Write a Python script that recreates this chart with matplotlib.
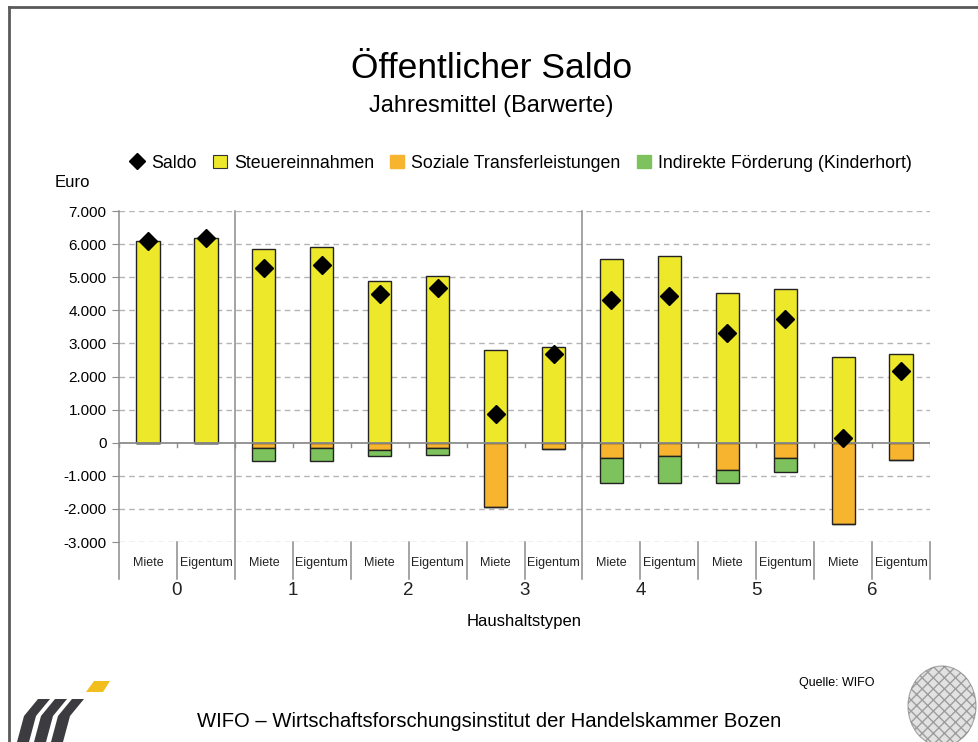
import matplotlib.pyplot as plt
import matplotlib.ticker as mticker
import matplotlib.transforms as mtransforms
from matplotlib.patches import Polygon, Ellipse
import numpy as np

plt.rcParams['font.family'] = ['Liberation Sans', 'DejaVu Sans']

# Daten
gruppen = ["0", "1", "2", "3", "4", "5", "6"]
wohnform = ["Miete", "Eigentum"] * 7
steuer = [6080, 6170, 5840, 5920, 4900, 5030, 2810, 2890, 5550, 5650, 4510, 4650, 2600, 2690]
transfer = [0, 0, -170, -170, -220, -170, -1940, -200, -460, -410, -810, -470, -2460, -530]
kinderhort = [0, 0, -390, -390, -180, -200, 0, 0, -760, -800, -400, -420, 0, 0]
saldo = [6080, 6170, 5280, 5360, 4500, 4660, 860, 2670, 4320, 4440, 3310, 3740, 140, 2160]

c_gelb = "#EEE82A"
c_orange = "#F7B42F"
c_gruen = "#7DC25C"
c_grau = "#8C8C8C"

fig = plt.figure(figsize=(9.79, 7.42), dpi=100)
ax = fig.add_axes([0.1216, 0.2695, 0.8284, 0.4461])

x = np.arange(len(steuer))
w = 0.40
ax.bar(x, steuer, w, color=c_gelb, edgecolor="#222222", linewidth=1.0, zorder=3)
ax.bar(x, transfer, w, color=c_orange, edgecolor="#222222", linewidth=1.0, zorder=3)
ax.bar(x, kinderhort, w, bottom=transfer, color=c_gruen, edgecolor="#222222",
       linewidth=1.0, zorder=3)
ax.plot(x, saldo, "D", color="black", markersize=9, zorder=5)

ax.set_xlim(-0.5, len(steuer) - 0.5)
ax.set_ylim(-3000, 7000)
ax.set_yticks(np.arange(-3000, 7001, 1000))
ax.yaxis.set_major_formatter(mticker.FuncFormatter(
    lambda v, p: f"{int(v):,}".replace(",", ".")))
ax.tick_params(axis="y", labelsize=11, length=5, color=c_grau, pad=4)
ax.set_xticks([])

for s in ["top", "right", "bottom", "left"]:
    ax.spines[s].set_visible(False)

for v in range(-3000, 7001, 1000):
    if v != 0:
        ax.axhline(v, color="#B4B4B4", linestyle=(0, (4, 3)), linewidth=1.0, zorder=1)
ax.axhline(0, color=c_grau, linewidth=1.3, zorder=4)

# Kategorieachse
trans = mtransforms.blended_transform_factory(ax.transData, ax.transAxes)
unten = -0.112
grenzen = np.arange(-0.5, len(steuer), 1.0)
for i, b in enumerate(grenzen):
    top = 1.0 if i in (0, 2, 8) else 0.0
    ax.plot([b, b], [unten, top], color=c_grau, linewidth=1.1, transform=trans,
            clip_on=False, zorder=2)
    ax.plot([b, b], [0, -130], color=c_grau, linewidth=1.0, zorder=4)
for i, lab in enumerate(wohnform):
    ax.text(x[i], -0.062, lab, transform=trans, ha="center", va="center",
            fontsize=9, color="#222222")
for g, lab in enumerate(gruppen):
    ax.text(2 * g + 0.5, -0.147, lab, transform=trans, ha="center", va="center",
            fontsize=13.5, color="#222222")
ax.text(6.5, -0.24, "Haushaltstypen", transform=trans, ha="center", va="center",
        fontsize=12)
ax.text(-1.3, 1.085, "Euro", transform=trans, ha="center", va="center", fontsize=12)

# Titel
fig.text(0.502, 0.908, "Öffentlicher Saldo", ha="center", va="center", fontsize=25.5)
fig.text(0.502, 0.857, "Jahresmittel (Barwerte)", ha="center", va="center", fontsize=17)

# Legende
h_saldo = plt.Line2D([], [], marker="D", color="black", linestyle="none", markersize=8)
h_st = plt.Rectangle((0, 0), 1, 1, facecolor=c_gelb, edgecolor="#333333", linewidth=0.8)
h_tr = plt.Rectangle((0, 0), 1, 1, facecolor=c_orange, edgecolor=c_orange)
h_kh = plt.Rectangle((0, 0), 1, 1, facecolor=c_gruen, edgecolor=c_gruen)
fig.legend([h_saldo, h_st, h_tr, h_kh],
           ["Saldo", "Steuereinnahmen", "Soziale Transferleistungen",
            "Indirekte Förderung (Kinderhort)"],
           loc="center", bbox_to_anchor=(0.532, 0.78), ncol=4, frameon=False,
           fontsize=12.8, handlelength=0.8, handleheight=0.8, handletextpad=0.4,
           columnspacing=0.9)

# Fusszeile
fig.text(0.5, 0.027, "WIFO – Wirtschaftsforschungsinstitut der Handelskammer Bozen",
         ha="center", va="center", fontsize=14.6)
fig.text(0.855, 0.079, "Quelle: WIFO", ha="center", va="center", fontsize=9)

# Rahmen
fig.add_artist(plt.Line2D([9 / 979, 9 / 979], [0, 1 - 7 / 742], color="#5A5A5A",
                          linewidth=2, transform=fig.transFigure))
fig.add_artist(plt.Line2D([9 / 979, 1], [1 - 7 / 742, 1 - 7 / 742], color="#5A5A5A",
                          linewidth=2, transform=fig.transFigure))

# WIFO Logo (vereinfacht)
lax = fig.add_axes([0, 0, 1, 1], zorder=-1)
lax.set_xlim(0, 979)
lax.set_ylim(742, 0)
lax.axis("off")
for dx in (0, 17, 34):
    lax.add_patch(Polygon([[17 + dx, 742], [24 + dx, 716], [38 + dx, 699], [50 + dx, 699],
                           [36 + dx, 716], [29 + dx, 742]], closed=True,
                          facecolor="#3C3C40", edgecolor="none"))
lax.add_patch(Polygon([[86, 692], [94, 681], [110, 681], [103, 692]], closed=True,
                      facecolor="#F2BE1E", edgecolor="none"))
# Wappen (angedeutet)
lax.add_patch(Ellipse((942, 706), 68, 80, facecolor="#D0D0D0", edgecolor="#707070",
                      hatch="xxx", linewidth=0.8, alpha=0.6))

fig.savefig("out.png", dpi=100)
